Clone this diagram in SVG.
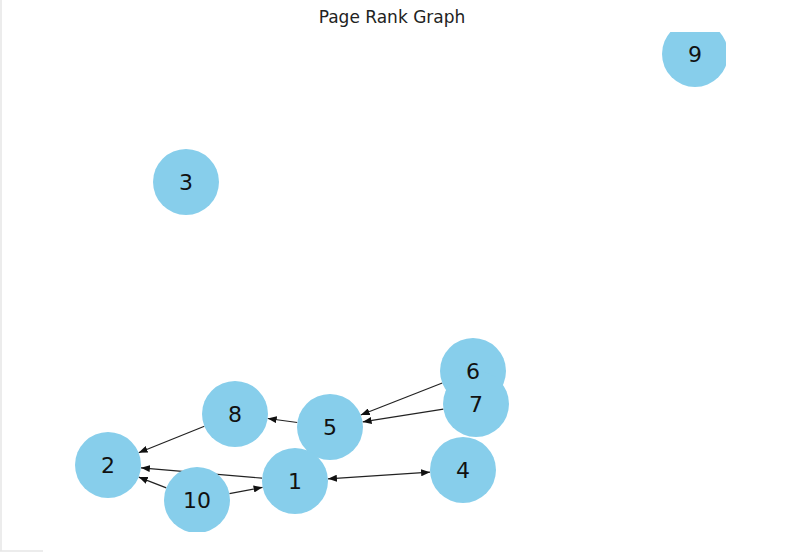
<svg xmlns="http://www.w3.org/2000/svg" width="788" height="552" viewBox="0 0 788 552">
<style>
.node circle{fill:#87CEEB}
.label{font-family:"DejaVu Sans",sans-serif;font-size:22px;fill:#111;text-anchor:middle;dominant-baseline:central}
.edge{stroke:#222;stroke-width:1.2;fill:none;marker-end:url(#arr)}
.title{font-family:"DejaVu Sans",sans-serif;font-size:17px;fill:#222;text-anchor:middle}
</style>
<defs>
<clipPath id="ax"><rect x="0" y="32" width="726" height="500"/></clipPath>
<marker id="arr" markerUnits="userSpaceOnUse" markerWidth="9" markerHeight="7" refX="9" refY="3.5" orient="auto-start-reverse"><path d="M0,0 L9,3.5 L0,7 z" fill="#111"/></marker>
</defs>
<rect width="788" height="552" fill="#fff"/>
<line x1="1" y1="0" x2="1" y2="551" stroke="#e6e6e6" stroke-width="1.5"/>
<line x1="0" y1="551" x2="43" y2="551" stroke="#e6e6e6" stroke-width="1.5"/>
<text class="title" x="392" y="23">Page Rank Graph</text>
<g clip-path="url(#ax)">
<g id="edges">
<line class="edge" x1="204.4" y1="426.3" x2="138.6" y2="452.7"/>
<line class="edge" x1="297.3" y1="422.5" x2="267.7" y2="418.5"/>
<line class="edge" x1="442.3" y1="383.0" x2="360.7" y2="415.0"/>
<line class="edge" x1="443.4" y1="409.1" x2="362.6" y2="421.9"/>
<line class="edge" x1="262.1" y1="478.2" x2="140.9" y2="467.8"/>
<line class="edge" x1="166.3" y1="487.9" x2="138.7" y2="477.1"/>
<line class="edge" x1="229.4" y1="493.7" x2="262.6" y2="487.3"/>
<line class="edge" x1="327.9" y1="478.8" x2="430.1" y2="472.2" marker-start="url(#arr)"/>
</g>
<g id="nodes">
<g id="node-9" class="node"><circle cx="695" cy="54" r="33"/></g>
<g id="node-3" class="node"><circle cx="186" cy="182" r="33"/></g>
<g id="node-6" class="node"><circle cx="473" cy="371" r="33"/></g>
<g id="node-7" class="node"><circle cx="476" cy="404" r="33"/></g>
<g id="node-8" class="node"><circle cx="235" cy="414" r="33"/></g>
<g id="node-5" class="node"><circle cx="330" cy="427" r="33"/></g>
<g id="node-2" class="node"><circle cx="108" cy="465" r="33"/></g>
<g id="node-10" class="node"><circle cx="197" cy="500" r="33"/></g>
<g id="node-1" class="node"><circle cx="295" cy="481" r="33"/></g>
<g id="node-4" class="node"><circle cx="463" cy="470" r="33"/></g>
</g>
<g id="labels">
<text class="label" id="label-9" x="695" y="54">9</text>
<text class="label" id="label-3" x="186" y="182">3</text>
<text class="label" id="label-6" x="473" y="371">6</text>
<text class="label" id="label-7" x="476" y="404">7</text>
<text class="label" id="label-8" x="235" y="414">8</text>
<text class="label" id="label-5" x="330" y="427">5</text>
<text class="label" id="label-2" x="108" y="465">2</text>
<text class="label" id="label-10" x="197" y="500">10</text>
<text class="label" id="label-1" x="295" y="481">1</text>
<text class="label" id="label-4" x="463" y="470">4</text>
</g>
</g>
</svg>
